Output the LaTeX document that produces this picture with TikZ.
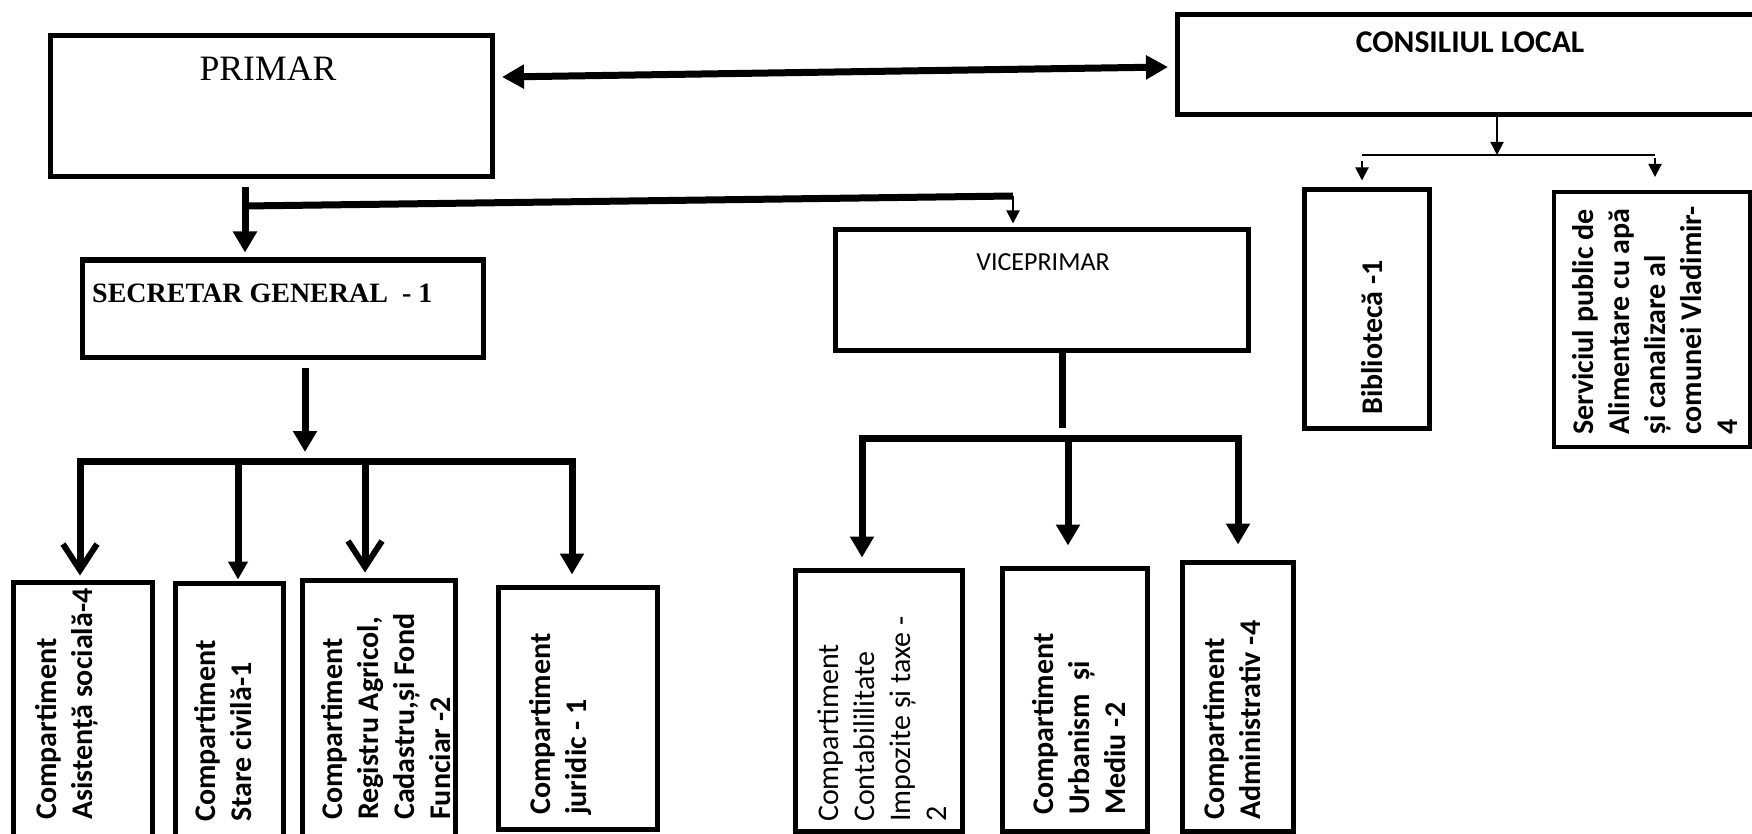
\documentclass[tikz,border=0pt]{standalone}
\usepackage{fontspec}
\setmainfont{Liberation Serif}
\newfontfamily\calibri{Carlito}
\usetikzlibrary{arrows.meta,calc}
\tikzset{
  box/.style={draw, line width=5pt, inner sep=0pt},
  thickln/.style={line width=7pt},
  thinln/.style={line width=2pt},
  bigtip/.style={-{Triangle[length=21pt,width=23pt]}},
  smalltip/.style={-{Triangle[length=18pt,width=19pt]}},
  thintip/.style={-{Triangle[length=13pt,width=13pt]}},
  vtip/.style={-{Straight Barb[length=26pt,width=34pt,line width=6pt]}},
  vtext/.style={rotate=90, anchor=north west, align=left, inner sep=0pt,
    font=\calibri\bfseries\fontsize{30}{36}\selectfont},
  vtextlight/.style={vtext, font=\calibri\fontsize{30}{36}\selectfont},
}
\begin{document}
\begin{tikzpicture}[x=1pt,y=-1pt]
\useasboundingbox (0,0) rectangle (1752,834);
% boxes
\node[box, minimum width=442pt, minimum height=141pt] (primar) at (271,106.5) {};
\node[box, minimum width=586pt, minimum height=100pt] (cl) at (1470,65) {};
\node[box, minimum width=401pt, minimum height=97pt] (sec) at (282.5,308.5) {};
\node[box, minimum width=413pt, minimum height=120pt] (vice) at (1041.5,290) {};
\node[box, minimum width=125pt, minimum height=238pt] (bib) at (1366.5,309) {};
\node[box, line width=4pt, minimum width=196pt, minimum height=255pt] (serv) at (1652,319.5) {};
\node[box, minimum width=139pt, minimum height=268pt] (b1) at (82.5,716) {};
\node[box, minimum width=108pt, minimum height=267pt] (b2) at (229,716.5) {};
\node[box, minimum width=153pt, minimum height=270pt] (b3) at (378.5,715) {};
\node[box, minimum width=159pt, minimum height=242pt] (b4) at (577.5,708) {};
\node[box, minimum width=167pt, minimum height=261pt] (b5) at (878.5,700.5) {};
\node[box, minimum width=145pt, minimum height=263pt] (b6) at (1074.5,699.5) {};
\node[box, minimum width=111pt, minimum height=269pt] (b7) at (1237.5,696.5) {};
% texts
\node[anchor=base, inner sep=0pt, font=\fontsize{35.7}{40}\selectfont] (tprimar) at (268,81) {PRIMAR};
\node[anchor=base west, inner sep=0pt, font=\bfseries\fontsize{28}{32}\selectfont] (tsec) at (92,302) {SECRETAR GENERAL\ \ - 1};
\node[anchor=base, inner sep=0pt, font=\calibri\bfseries\fontsize{31.6}{36}\selectfont] (tcl) at (1470,53) {CONSILIUL LOCAL};
\node[anchor=base, inner sep=0pt, font=\calibri\fontsize{26}{30}\selectfont] (tvice) at (1043,270) {VICEPRIMAR};
\node[vtext] (tbib) at (1361,415) {Bibliotecă -1};
\node[vtext] (tserv) at (1572,435) {Serviciul public de\\Alimentare cu apă\\și canalizare al\\comunei Vladimir-\\4};
\node[vtext] (tb1) at (35,820) {Compartiment\\Asistență socială-4};
\node[vtext] (tb2) at (194,822) {Compartiment\\Stare civilă-1};
\node[vtext] (tb3) at (321,820) {Compartiment\\Registru Agricol,\\Cadastru,și Fond\\Funciar -2};
\node[vtext] (tb4) at (529,815) {Compartiment\\juridic - 1};
\node[vtextlight] (tb5) at (818,822) {Compartiment\\Contabililitate\\Impozite și taxe -\\2};
\node[vtext] (tb6) at (1032,815) {Compartiment\\Urbanism\ \ și\\Mediu -2};
\node[vtext] (tb7) at (1203,820) {Compartiment\\Administrativ -4};
% PRIMAR <-> CONSILIUL LOCAL
\coordinate (dA) at (502,77);
\coordinate (dB) at (1168,67);
\draw[thickln, {Triangle[length=22pt,width=23pt]}-{Triangle[length=22pt,width=23pt]}] (dA) -- (dB);
% PRIMAR -> SECRETAR, VICEPRIMAR
\coordinate (j1) at (245,206);
\coordinate (j2) at (1013,196);
\draw[thickln] ($(primar.south -| j1)+(0,8)$) -- (j1);
\draw[thickln, bigtip] (j1) -- ($(sec.north -| j1)+(0,-5)$);
\draw[thickln] (j1) -- (j2);
\draw[thinln, thintip] (j2) -- ($(vice.north -| j2)+(0,-4)$);
% CONSILIUL LOCAL branches
\coordinate (c0) at (1497,155);
\coordinate (cL) at (1362,155);
\coordinate (cR) at (1655,155);
\draw[thinln, thintip] (cl.south -| c0) -- (c0);
\draw[thinln] (cL) -- (cR);
\draw[thinln, thintip] ($(cL)+(0,6)$) -- ($(bib.north -| cL)+(0,-7)$);
\draw[thinln, thintip] ($(cR)+(0,3)$) -- ($(serv.north -| cR)+(0,-13)$);
% SECRETAR branches
\coordinate (j3) at (305,461);
\coordinate (s1) at (80,461);
\coordinate (s2) at (238,461);
\coordinate (s3) at (365,461);
\coordinate (s4) at (572,461);
\draw[thickln, bigtip] ($(sec.south -| j3)+(0,8)$) -- ($(j3)+(0,-9)$);
\draw[thickln, line cap=rect] (s1) -- (s4);
\draw[thickln, vtip] (s1) -- ($(b1.north -| s1)+(0,-4)$);
\draw[thickln, smalltip] (s2) -- ($(b2.north -| s2)+(0,-1)$);
\draw[thickln, vtip] (s3) -- ($(b3.north -| s3)+(0,-5)$);
\draw[thickln, bigtip] (s4) -- ($(b4.north -| s4)+(0,-10)$);
% VICEPRIMAR branches
\coordinate (j4) at (1062,438);
\coordinate (v1) at (862,438);
\coordinate (v2) at (1068,438);
\coordinate (v3) at (1238,438);
\draw[thickln] (vice.south -| j4) -- ($(j4)+(0,-10)$);
\draw[thickln, line cap=rect] (v1) -- (v3);
\draw[thickln, bigtip] (v1) -- ($(b5.north -| v1)+(0,-10)$);
\draw[thickln, bigtip] (v2) -- ($(b6.north -| v2)+(0,-20)$);
\draw[thickln, bigtip] (v3) -- ($(b7.north -| v3)+(0,-15)$);
\end{tikzpicture}
\end{document}
